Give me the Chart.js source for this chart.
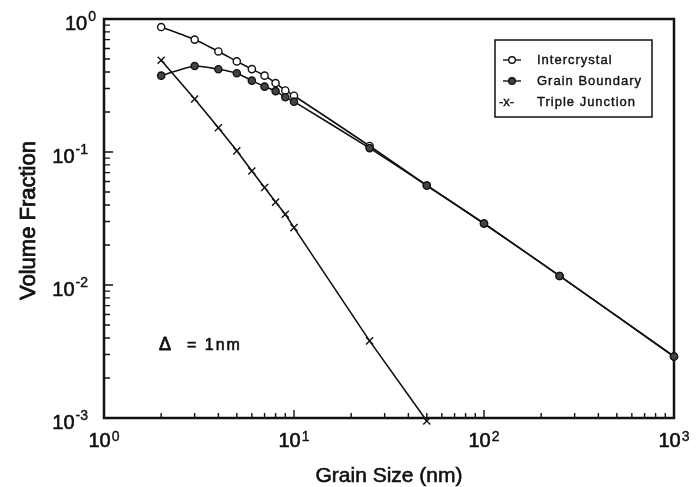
<!DOCTYPE html>
<html lang="en">
<head>
  <meta charset="UTF-8" />
  <title>Volume Fraction vs Grain Size</title>
  <script src="https://cdn.jsdelivr.net/npm/chart.js"></script>
  <style>
    body { margin: 0; background: #fff; }
    #wrap { width: 700px; height: 487px; }
  </style>
</head>
<body>
  <div id="wrap"><canvas id="chart" width="700" height="487"></canvas></div>

  <script>
    // grain size d (nm), interface thickness 1 nm
    const sizes = [2, 3, 4, 5, 6, 7, 8, 9, 10, 25, 50, 100, 250, 1000];
    const intercrystal = [0.87, 0.70, 0.57, 0.48, 0.42, 0.375, 0.33, 0.29, 0.265, 0.111, 0.056, 0.029, 0.0117, 0.0029];
    const grainBoundary = [0.375, 0.443, 0.419, 0.391, 0.344, 0.31, 0.287, 0.258, 0.239, 0.107, 0.056, 0.029, 0.0117, 0.0029];
    const tripleSizes = [2, 3, 4, 5, 6, 7, 8, 9, 10, 25, 50];
    const tripleJunction = [0.49, 0.25, 0.152, 0.102, 0.072, 0.054, 0.042, 0.034, 0.027, 0.0038, 0.00095];

    const xDecades = [1, 10, 100, 1000];
    const yDecades = [0.001, 0.01, 0.1, 1];
    const xExponents = [0, 1, 2, 3];
    const yExponents = [-3, -2, -1, 0];

    const seriesNames = ['Intercrystal', 'Grain Boundary', 'Triple Junction'];

    const INK = '#111';
    const FONT = '"Liberation Sans", Arial, sans-serif';

    function toPoints(xs, ys) {
      return xs.map((x, i) => ({ x: x, y: ys[i] }));
    }

    // 2..9 between each pair of decades
    function minorTicks(decades) {
      const out = [];
      for (let i = 0; i < decades.length - 1; i++) {
        for (let m = 2; m <= 9; m++) out.push(decades[i] * m);
      }
      return out;
    }

    // fill plus a hairline stroke, gives the heavier printed look
    function inkText(ctx, text, x, y, weight) {
      ctx.fillText(text, x, y);
      ctx.lineWidth = weight || 0.5;
      ctx.strokeText(text, x, y);
    }

    function drawPower(ctx, exp, x, baseline, align, supRise) {
      ctx.textBaseline = 'alphabetic';
      ctx.textAlign = 'left';
      ctx.font = '20px ' + FONT;
      const wBase = ctx.measureText('10').width;
      ctx.font = '14px ' + FONT;
      const sup = String(exp);
      const wSup = ctx.measureText(sup).width;
      const total = wBase + 1 + wSup;
      const start = align === 'center' ? x - total / 2 : x - total;
      ctx.font = '20px ' + FONT;
      inkText(ctx, '10', start, baseline, 0.6);
      ctx.font = '14px ' + FONT;
      inkText(ctx, sup, start + wBase + 1, baseline - supRise, 0.4);
    }

    function circle(ctx, x, y, r, fill) {
      ctx.beginPath();
      ctx.arc(x, y, r, 0, Math.PI * 2);
      ctx.fillStyle = fill;
      ctx.fill();
      ctx.stroke();
    }

    const paperPlugin = {
      id: 'paper',
      beforeDatasetsDraw(chart) {
        const { ctx, chartArea: a, scales } = chart;
        ctx.save();
        ctx.strokeStyle = INK;
        ctx.lineWidth = 2.5;
        ctx.strokeRect(a.left, a.top, a.right - a.left, a.bottom - a.top);

        // inward tick marks on the left and bottom axes
        ctx.lineWidth = 1.4;
        ctx.beginPath();
        yDecades.forEach(v => {
          const y = scales.y.getPixelForValue(v);
          ctx.moveTo(a.left, y); ctx.lineTo(a.left + 9, y);
        });
        minorTicks(yDecades).forEach(v => {
          const y = scales.y.getPixelForValue(v);
          ctx.moveTo(a.left, y); ctx.lineTo(a.left + 6, y);
        });
        xDecades.forEach(v => {
          const x = scales.x.getPixelForValue(v);
          ctx.moveTo(x, a.bottom); ctx.lineTo(x, a.bottom - 8);
        });
        minorTicks(xDecades).forEach(v => {
          const x = scales.x.getPixelForValue(v);
          ctx.moveTo(x, a.bottom); ctx.lineTo(x, a.bottom - 5);
        });
        ctx.stroke();
        ctx.restore();
      },
      afterDatasetsDraw(chart) {
        const { ctx, chartArea: a, scales } = chart;
        ctx.save();
        ctx.fillStyle = INK;
        ctx.strokeStyle = INK;

        // tick labels
        xDecades.forEach((v, i) => {
          drawPower(ctx, xExponents[i], scales.x.getPixelForValue(v), a.bottom + 29, 'center', 6);
        });
        yDecades.forEach((v, i) => {
          const right = yExponents[i] < 0 ? a.left - 16 : a.left - 8;
          drawPower(ctx, yExponents[i], right, scales.y.getPixelForValue(v) + 11, 'right', 9);
        });

        // axis titles
        ctx.font = '21px ' + FONT;
        ctx.textAlign = 'center';
        ctx.textBaseline = 'alphabetic';
        inkText(ctx, 'Grain Size (nm)', (a.left + a.right) / 2, 482, 0.6);
        ctx.save();
        ctx.translate(35, (a.top + a.bottom) / 2 + 2);
        ctx.rotate(-Math.PI / 2);
        ctx.font = '22px ' + FONT;
        inkText(ctx, 'Volume Fraction', 0, 0, 0.8);
        ctx.restore();

        // interface thickness note
        ctx.textAlign = 'left';
        ctx.font = '18px ' + FONT;
        inkText(ctx, '\u0394', 159, 350, 0.8);
        ctx.font = '16px ' + FONT;
        ctx.letterSpacing = '2px';
        inkText(ctx, '= 1nm', 187, 350, 0.6);
        ctx.letterSpacing = '0px';

        // legend box
        const lx = 495, ly = 40, lw = 157, lh = 77;
        ctx.lineWidth = 1.5;
        ctx.strokeRect(lx, ly, lw, lh);
        const rows = [60, 81, 102];
        ctx.lineWidth = 1.4;
        [0, 1].forEach(i => {
          ctx.beginPath();
          ctx.moveTo(503, rows[i]); ctx.lineTo(521, rows[i]);
          ctx.stroke();
          circle(ctx, 512, rows[i], 3.3, i === 0 ? '#fff' : '#444');
        });
        ctx.fillStyle = INK;
        ctx.font = '13px ' + FONT;
        ctx.textBaseline = 'middle';
        inkText(ctx, '-x-', 499, rows[2], 0.4);
        ctx.letterSpacing = '1px';
        seriesNames.forEach((name, i) => inkText(ctx, name, 537, rows[i], 0.4));
        ctx.letterSpacing = '0px';
        ctx.restore();
      }
    };

    const lineStyle = {
      borderColor: INK,
      borderWidth: 1.6,
      pointBorderColor: INK,
      pointBorderWidth: 1.4,
      pointRadius: 3.6,
      tension: 0.2,
      clip: false
    };

    new Chart(document.getElementById('chart'), {
      type: 'line',
      data: {
        datasets: [
          Object.assign({}, lineStyle, {
            label: seriesNames[1],
            data: toPoints(sizes, grainBoundary),
            pointBackgroundColor: '#444'
          }),
          Object.assign({}, lineStyle, {
            label: seriesNames[0],
            data: toPoints(sizes, intercrystal),
            pointBackgroundColor: '#fff'
          }),
          Object.assign({}, lineStyle, {
            label: seriesNames[2],
            data: toPoints(tripleSizes, tripleJunction),
            pointStyle: 'crossRot',
            pointRadius: 5,
            tension: 0
          })
        ]
      },
      options: {
        responsive: false,
        animation: false,
        layout: { padding: { left: 104, right: 26, top: 19, bottom: 69 } },
        plugins: {
          legend: { display: false },
          tooltip: { enabled: false }
        },
        scales: {
          x: { type: 'logarithmic', min: 1, max: 1000, display: false },
          y: { type: 'logarithmic', min: 0.001, max: 1, display: false }
        }
      },
      plugins: [paperPlugin]
    });
  </script>
</body>
</html>
